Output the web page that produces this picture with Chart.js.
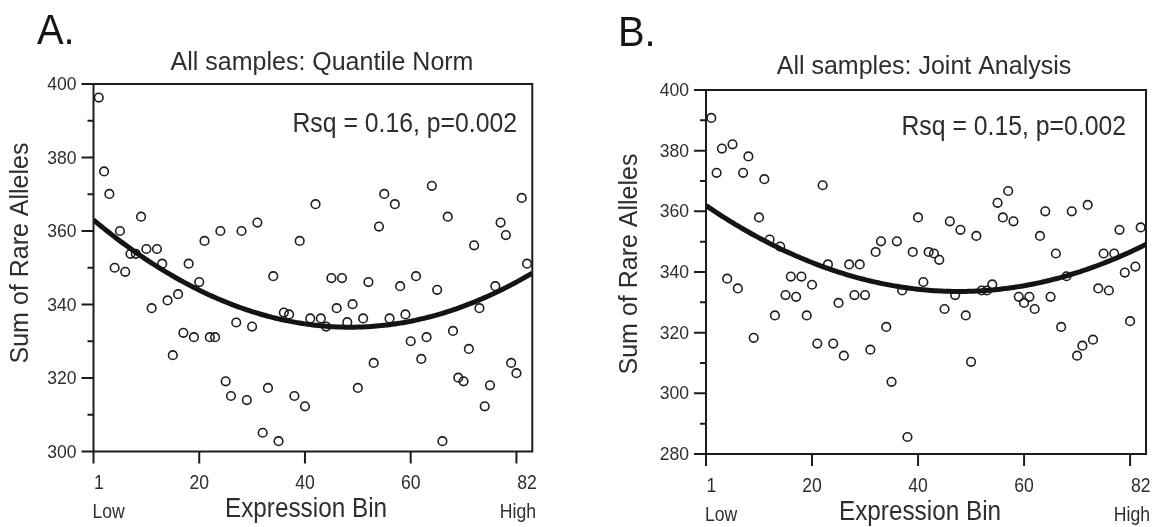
<!DOCTYPE html>
<html>
<head>
<meta charset="utf-8">
<title>Sum of Rare Alleles by Expression Bin</title>
<script src="https://cdn.jsdelivr.net/npm/chart.js@4.4.1/dist/chart.umd.min.js"></script>
<style>
  html, body { margin: 0; padding: 0; background: #ffffff; }
  #wrap { position: relative; width: 1161px; height: 527px; overflow: hidden; }
  .panel { position: absolute; top: 0; height: 527px; }
  #pA { left: 0; width: 580px; }
  #pB { left: 580px; width: 581px; }
  canvas { display: block; }
</style>
</head>
<body>
<div id="wrap">
  <div class="panel" id="pA"><canvas id="cA" width="580" height="527"></canvas></div>
  <div class="panel" id="pB"><canvas id="cB" width="581" height="527"></canvas></div>
</div>
<script>
// Expression bins (1 = lowest expression, 82 = highest)
const bins = [
  1, 2, 3, 4, 5, 6, 7, 8, 9, 10, 11, 12, 13, 14, 15, 16, 17, 18, 19, 20,
  21, 22, 23, 24, 25, 26, 27, 28, 29, 30, 31, 32, 33, 34, 35, 36, 37, 38, 39, 40,
  41, 42, 43, 44, 45, 46, 47, 48, 49, 50, 51, 52, 53, 54, 55, 56, 57, 58, 59, 60,
  61, 62, 63, 64, 65, 66, 67, 68, 69, 70, 71, 72, 73, 74, 75, 76, 77, 78, 79, 80,
  81, 82
];

// Sum of rare alleles per bin, quantile-normalised expression
const quantileNorm = [
  396.3, 376.2, 370.1, 350.0, 360.0, 348.9, 353.8, 353.8, 363.9, 355.1,
  339.0, 355.1, 351.1, 341.1, 326.2, 342.8, 332.3, 351.1, 331.1, 346.1,
  357.3, 331.1, 331.1, 360.0, 319.1, 315.1, 335.1, 360.0, 314.0, 334.0,
  362.3, 305.1, 317.3, 347.7, 302.8, 337.8, 337.3, 315.1, 357.3, 312.3,
  336.2, 367.3, 336.2, 334.0, 347.2, 339.0, 347.2, 335.2, 340.1, 317.3,
  336.2, 346.1, 324.1, 361.2, 370.1, 336.2, 367.3, 345.0, 337.3, 330.0,
  347.7, 325.2, 331.1, 372.3, 344.0, 302.8, 363.9, 332.8, 320.1, 319.1,
  327.9, 356.1, 339.0, 312.3, 318.0, 345.0, 362.3, 358.9, 324.1, 321.3,
  369.0, 351.1
];

// Sum of rare alleles per bin, joint analysis
const jointAnalysis = [
  390.8, 372.7, 380.7, 337.8, 382.1, 334.6, 372.7, 378.1, 318.3, 358.0,
  370.6, 350.7, 325.7, 348.4, 332.4, 338.5, 331.8, 338.5, 325.7, 335.8,
  316.4, 368.6, 342.5, 316.4, 329.8, 312.4, 342.5, 332.4, 342.5, 332.4,
  314.4, 346.6, 350.1, 321.9, 303.8, 350.1, 333.9, 285.6, 346.6, 358.0,
  336.7, 346.6, 346.1, 344.0, 327.8, 356.7, 332.4, 353.9, 325.7, 310.4,
  351.9, 333.9, 333.9, 335.9, 362.8, 358.0, 366.7, 356.7, 331.8, 329.8,
  331.8, 327.8, 351.9, 360.0, 331.8, 346.1, 321.9, 338.6, 360.0, 312.4,
  315.7, 362.1, 317.7, 334.6, 346.1, 333.9, 346.1, 353.9, 339.8, 323.8,
  341.8, 354.7
];

// Axis ticks
const xTickMarks   = [0, 20, 40, 60, 80];
const xTickLabels  = ['1', '20', '40', '60', '82'];
const xTickLabelAt = [1, 20, 40, 60, 82];
const yTicksA      = [300, 320, 340, 360, 380, 400];
const yMinorA      = [310, 330, 350, 370, 390];
const yTicksB      = [280, 300, 320, 340, 360, 380, 400];
const yMinorB      = [290, 310, 330, 350, 370, 390];

// Text
const panelLetters = ['A.', 'B.'];
const panelTitles  = ['All samples: Quantile Norm', 'All samples: Joint Analysis'];
const statLabels   = ['Rsq = 0.16, p=0.002', 'Rsq = 0.15, p=0.002'];
const xAxisTitle   = 'Expression Bin';
const yAxisTitle   = 'Sum of Rare Alleles';
const xEndLabels   = ['Low', 'High'];

const FONT = '"Liberation Sans", Arial, Helvetica, sans-serif';
const INK = '#1c1c1c';
const TEXT = '#2e2e2e';

// Least-squares quadratic y = c0 + c1 x + c2 x^2
function quadFit(xs, ys) {
  let s = [0, 0, 0, 0, 0], t = [0, 0, 0];
  for (let i = 0; i < xs.length; i++) {
    const x = xs[i], y = ys[i];
    let p = 1;
    for (let k = 0; k < 5; k++) { s[k] += p; if (k < 3) t[k] += p * y; p *= x; }
  }
  const M = [[s[0], s[1], s[2]], [s[1], s[2], s[3]], [s[2], s[3], s[4]]];
  const det = m => m[0][0]*(m[1][1]*m[2][2]-m[1][2]*m[2][1]) - m[0][1]*(m[1][0]*m[2][2]-m[1][2]*m[2][0]) + m[0][2]*(m[1][0]*m[2][1]-m[1][1]*m[2][0]);
  const D = det(M);
  const c = [0, 1, 2].map(j => det(M.map((row, r) => row.map((v, col) => col === j ? t[r] : v))) / D);
  return x => c[0] + c[1] * x + c[2] * x * x;
}

function fitCurve(xs, ys, xMin, xMax) {
  const f = quadFit(xs, ys);
  const pts = [];
  for (let x = xMin; x <= xMax + 1e-9; x += 0.5) pts.push({ x: x, y: f(x) });
  return pts;
}

// Text drawn slightly condensed, like the typeface used on the figure
function text(ctx, str, x, y, size, align, sx) {
  ctx.save();
  ctx.translate(x, y);
  ctx.scale(sx, 1);
  ctx.font = size + 'px ' + FONT;
  ctx.textAlign = align;
  ctx.fillText(str, 0, 0);
  ctx.restore();
}

// Frame, ticks and all text, placed through the chart's own scales
const decorations = {
  id: 'decorations',
  afterDraw(chart, args, o) {
    const ctx = chart.ctx, a = chart.chartArea;
    const xs = chart.scales.x, ys = chart.scales.y;
    ctx.save();
    ctx.strokeStyle = INK;
    ctx.lineWidth = 2;
    ctx.strokeRect(a.left, a.top, a.right - a.left, a.bottom - a.top);

    // y ticks
    ctx.beginPath();
    o.yTicks.forEach(v => { const y = ys.getPixelForValue(v); ctx.moveTo(a.left - 12, y); ctx.lineTo(a.left, y); });
    o.yMinor.forEach(v => { const y = ys.getPixelForValue(v); ctx.moveTo(a.left - 6, y); ctx.lineTo(a.left, y); });
    // x ticks
    xTickMarks.forEach(v => { const x = xs.getPixelForValue(v); ctx.moveTo(x, a.bottom); ctx.lineTo(x, a.bottom + 12); });
    ctx.stroke();

    ctx.fillStyle = TEXT;
    ctx.textBaseline = 'middle';
    o.yTicks.forEach(v => text(ctx, String(v), a.left - 17, ys.getPixelForValue(v) + 1, 18.5, 'right', 0.95));

    ctx.textBaseline = 'alphabetic';
    xTickLabels.forEach((t, i) => text(ctx, t, xs.getPixelForValue(xTickLabelAt[i]), o.xLabelBase, 20, 'center', 0.88));

    text(ctx, xEndLabels[0], a.left - 1, o.endBase, 20, 'left', 0.88);
    text(ctx, xEndLabels[1], o.highRight, o.endBase, 20, 'right', 0.88);

    text(ctx, xAxisTitle, o.xTitleX, o.xTitleBase, 27, 'center', 0.9);

    ctx.save();
    ctx.translate(o.yTitleBaseX, o.yTitleY);
    ctx.rotate(-Math.PI / 2);
    text(ctx, yAxisTitle, 0, 0, 25, 'center', 1);
    ctx.restore();

    text(ctx, o.title, o.titleX, o.titleBase, 25, 'center', 1);
    text(ctx, o.stat, o.statRight, o.statBase, 28, 'right', 0.885);

    ctx.fillStyle = '#161616';
    text(ctx, o.letter, o.letterX, o.letterBase, 42, 'left', 0.95);
    ctx.restore();
  }
};

function makePanel(canvasId, values, yMin, yMax, pad, deco) {
  const points = bins.map((b, i) => ({ x: b, y: values[i] }));
  const curve = fitCurve(bins, values, 0, 83);
  return new Chart(document.getElementById(canvasId), {
    type: 'scatter',
    data: {
      datasets: [
        {
          type: 'line', data: curve, showLine: true, fill: false,
          borderColor: '#141414', borderWidth: 5, pointRadius: 0, tension: 0,
          borderCapStyle: 'butt'
        },
        {
          data: points, pointRadius: 4.3, pointBorderWidth: 1.6,
          pointBorderColor: '#1e1e1e', pointBackgroundColor: 'rgba(0,0,0,0)',
          borderColor: '#1e1e1e', backgroundColor: 'rgba(0,0,0,0)'
        }
      ]
    },
    options: {
      responsive: false, animation: false, devicePixelRatio: 1,
      layout: { padding: pad },
      scales: {
        x: { type: 'linear', min: 0, max: 83, display: false },
        y: { type: 'linear', min: yMin, max: yMax, display: false }
      },
      plugins: { legend: { display: false }, tooltip: { enabled: false }, decorations: deco },
      events: []
    },
    plugins: [decorations]
  });
}

makePanel('cA', quantileNorm, 300, 400,
  { left: 93.5, right: 47.7, top: 84, bottom: 75.5 },
  { yTicks: yTicksA, yMinor: yMinorA, letter: panelLetters[0], title: panelTitles[0], stat: statLabels[0],
    letterX: 37, letterBase: 44, titleX: 322, titleBase: 70, statRight: 517, statBase: 132,
    yTitleBaseX: 28, yTitleY: 253, xLabelBase: 489, xTitleX: 306, xTitleBase: 517,
    endBase: 518, highRight: 536 });

makePanel('cB', jointAnalysis, 280, 400,
  { left: 126, right: 15, top: 90, bottom: 73 },
  { yTicks: yTicksB, yMinor: yMinorB, letter: panelLetters[1], title: panelTitles[1], stat: statLabels[1],
    letterX: 38, letterBase: 46, titleX: 344, titleBase: 74, statRight: 546, statBase: 135,
    yTitleBaseX: 57, yTitleY: 264, xLabelBase: 492, xTitleX: 340, xTitleBase: 520,
    endBase: 521, highRight: 570 });
</script>
</body>
</html>
